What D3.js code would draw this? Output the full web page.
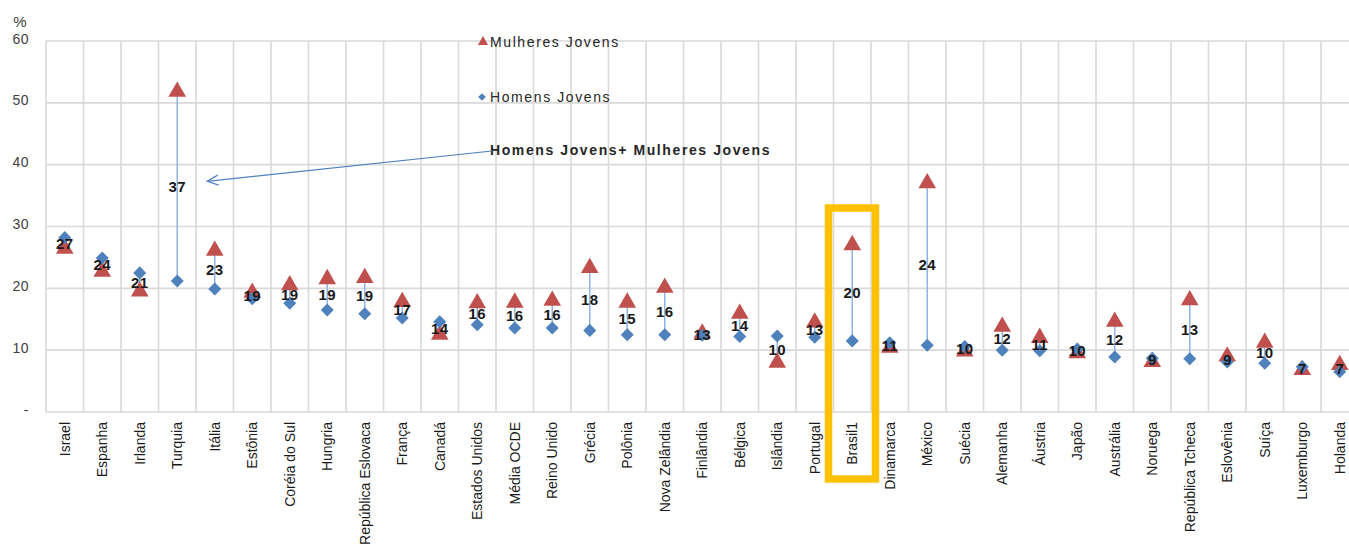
<!DOCTYPE html>
<html>
<head>
<meta charset="utf-8">
<script src="https://cdn.jsdelivr.net/npm/d3@7"></script>
<style>
  body { margin: 0; background: #fff; }
  svg { font-family: "Liberation Sans", Arial, sans-serif; }
</style>
</head>
<body>
<svg id="drawing_region"></svg>
<script>
// categorias (países)
const countries = ["Israel", "Espanha", "Irlanda", "Turquia", "Itália", "Estônia", "Coréia do Sul", "Hungria",
  "República Eslovaca", "França", "Canadá", "Estados Unidos", "Média OCDE", "Reino Unido", "Grécia", "Polônia",
  "Nova Zelândia", "Finlândia", "Bélgica", "Islândia", "Portugal", "Brasil1", "Dinamarca", "México", "Suécia",
  "Alemanha", "Áustria", "Japão", "Austrália", "Noruega", "República Tcheca", "Eslovênia", "Suíça", "Luxemburgo", "Holanda"];

const women = [26.4, 22.7, 19.5, 51.8, 26.1, 19.3, 20.5, 21.5, 21.7, 17.8, 12.5, 17.6, 17.7, 18.0, 23.3, 17.7,
  20.1, 12.7, 15.9, 8.0, 14.5, 27.0, 10.4, 37.0, 9.8, 13.8, 12.0, 9.5, 14.6, 8.1, 18.1, 9.0, 11.2, 6.8, 7.6];

const men = [28.2, 24.9, 22.5, 21.2, 19.9, 18.3, 17.6, 16.5, 15.9, 15.2, 14.6, 14.1, 13.6, 13.6, 13.2, 12.5,
  12.5, 12.4, 12.2, 12.3, 12.1, 11.5, 11.2, 10.8, 10.6, 10.0, 9.9, 10.2, 8.9, 8.7, 8.6, 8.1, 7.9, 7.3, 6.5];

const total = [27, 24, 21, 37, 23, 19, 19, 19, 19, 17, 14, 16, 16, 16, 18, 15, 16, 13, 14, 10, 13, 20, 11, 24,
  10, 12, 11, 10, 12, 9, 13, 9, 10, 7, 7];

const yTicks = [0, 10, 20, 30, 40, 50, 60];
const highlight = "Brasil1";

const data = countries.map((c, i) => ({ c: c, w: women[i], m: men[i], t: total[i] }));

const width = 1349, height = 549;
const plotLeft = 46, plotTop = 41, plotBottom = 412, bw = 37.5;

const svg = d3.select('#drawing_region')
  .attr('width', width)
  .attr('height', height);

const x = d3.scaleBand()
  .domain(countries)
  .range([plotLeft, plotLeft + countries.length * bw])
  .padding(0);

const y = d3.scaleLinear()
  .domain([0, 60])
  .range([plotBottom, plotTop]);

const grid = '#d9d9d9';

// grade horizontal
svg.append('g').selectAll('line')
  .data(yTicks)
  .enter().append('line')
  .attr('x1', plotLeft).attr('x2', width)
  .attr('y1', d => y(d)).attr('y2', d => y(d))
  .attr('stroke', grid).attr('stroke-width', 1.6);

// grade vertical
svg.append('g').selectAll('line')
  .data(countries)
  .enter().append('line')
  .attr('x1', d => x(d)).attr('x2', d => x(d))
  .attr('y1', y(60)).attr('y2', y(0))
  .attr('stroke', grid).attr('stroke-width', 1.6);

// eixo y
const yaxis = d3.axisLeft(y)
  .tickValues(yTicks)
  .tickSize(0)
  .tickPadding(0)
  .tickFormat(d => d === 0 ? '-' : d);

const yg = svg.append('g')
  .attr('transform', 'translate(29,0)')
  .call(yaxis);
yg.select('.domain').remove();
yg.selectAll('text')
  .attr('font-size', 14).attr('fill', '#404040')
  .attr('letter-spacing', 0.5)
  .attr('dy', '0.15em')
  .attr('font-family', '"Liberation Sans", Arial, sans-serif');

svg.append('text')
  .attr('x', 20).attr('y', 27)
  .attr('text-anchor', 'middle')
  .attr('font-size', 15).attr('fill', '#404040')
  .text('%');

// eixo x
const xaxis = d3.axisBottom(x).tickSize(0).tickPadding(0);
const xg = svg.append('g')
  .attr('transform', `translate(0, ${plotBottom})`)
  .call(xaxis);
xg.select('.domain').remove();
xg.selectAll('text')
  .attr('font-size', 14)
  .attr('fill', '#1a1a1a')
  .attr('font-family', '"Liberation Sans", Arial, sans-serif')
  .attr('transform', 'rotate(-90)')
  .attr('text-anchor', 'end')
  .attr('dy', '0.35em')
  .attr('x', -10)
  .attr('y', 0);

// linhas verticais entre homens e mulheres
const cx = d => x(d.c) + x.bandwidth() / 2;

svg.append('g').selectAll('line')
  .data(data)
  .enter().append('line')
  .attr('x1', cx).attr('x2', cx)
  .attr('y1', d => y(d.w)).attr('y2', d => y(d.m))
  .attr('stroke', '#8db4e2').attr('stroke-width', 1.5);

// mulheres (triângulos)
const tri = d3.symbol().type(d3.symbolTriangle).size(135);
svg.append('g').selectAll('path')
  .data(data)
  .enter().append('path')
  .attr('d', tri)
  .attr('transform', d => `translate(${cx(d)}, ${y(d.w)})`)
  .attr('fill', '#c0504d');

// homens (losangos)
const dia = d3.symbol().type(d3.symbolSquare).size(85);
svg.append('g').selectAll('path')
  .data(data)
  .enter().append('path')
  .attr('d', dia)
  .attr('transform', d => `translate(${cx(d)}, ${y(d.m)}) rotate(45)`)
  .attr('fill', '#4f81bd');

// rótulos (total)
svg.append('g').selectAll('text')
  .data(data)
  .enter().append('text')
  .attr('x', cx)
  .attr('y', d => y((d.w + d.m) / 2))
  .attr('dy', '0.36em')
  .attr('text-anchor', 'middle')
  .attr('font-size', 15)
  .attr('font-weight', 'bold')
  .attr('letter-spacing', 0.3)
  .attr('fill', '#1a1a1a')
  .text(d => d.t);

// legenda
const leg = svg.append('g');
leg.append('path')
  .attr('d', d3.symbol().type(d3.symbolTriangle).size(45))
  .attr('transform', 'translate(483, 42)')
  .attr('fill', '#c0504d');
leg.append('text')
  .attr('x', 490).attr('y', 42).attr('dy', '0.35em')
  .attr('font-size', 14).attr('letter-spacing', 1.6).attr('fill', '#262626')
  .text('Mulheres Jovens');
leg.append('path')
  .attr('d', d3.symbol().type(d3.symbolSquare).size(30))
  .attr('transform', 'translate(482, 97) rotate(45)')
  .attr('fill', '#4f81bd');
leg.append('text')
  .attr('x', 490).attr('y', 97).attr('dy', '0.35em')
  .attr('font-size', 14).attr('letter-spacing', 1.6).attr('fill', '#262626')
  .text('Homens Jovens');
leg.append('text')
  .attr('x', 490).attr('y', 150).attr('dy', '0.35em')
  .attr('font-size', 14).attr('letter-spacing', 1.6)
  .attr('font-weight', 'bold').attr('fill', '#262626')
  .text('Homens Jovens+ Mulheres Jovens');

// seta apontando para o rótulo da Turquia
const tur = data[countries.indexOf('Turquia')];
const ax = cx(tur) + 30, ay = y((tur.w + tur.m) / 2) - 5;
svg.append('defs').append('marker')
  .attr('id', 'arrow')
  .attr('viewBox', '0 0 12 12')
  .attr('refX', 11).attr('refY', 6)
  .attr('markerWidth', 12).attr('markerHeight', 12)
  .attr('markerUnits', 'userSpaceOnUse')
  .attr('orient', 'auto')
  .append('path')
  .attr('d', 'M0,1 L11,6 L0,11')
  .attr('fill', 'none')
  .attr('stroke', '#4f81bd')
  .attr('stroke-width', 1.3);
svg.append('line')
  .attr('x1', 492).attr('y1', 151)
  .attr('x2', ax).attr('y2', ay)
  .attr('stroke', '#4f81bd').attr('stroke-width', 1.2)
  .attr('marker-end', 'url(#arrow)');

// destaque do Brasil
svg.append('rect')
  .attr('x', x(highlight) - 5)
  .attr('y', 208)
  .attr('width', x.bandwidth() + 9.5)
  .attr('height', 271)
  .attr('fill', 'none')
  .attr('stroke', '#ffc000')
  .attr('stroke-width', 7.5);
</script>
</body>
</html>
